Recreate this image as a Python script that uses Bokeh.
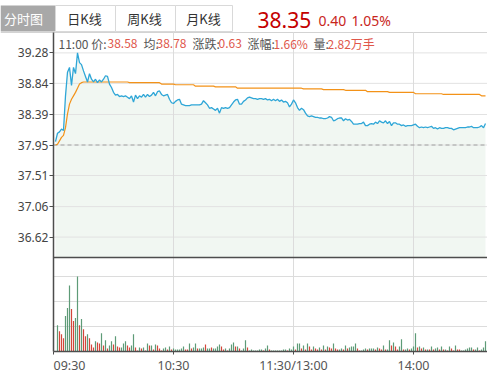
from bokeh.plotting import figure
from bokeh.models import Range1d, FixedTicker, LinearAxis, NumeralTickFormatter
from bokeh.embed import file_html
from bokeh.resources import INLINE
from bokeh.core.properties import value

# ---------------- data ----------------
prev_close = 37.95
last_price = "38.35"
change = "0.40"
change_pct = "1.05%"
price_tick_labels = ["36.62", "37.06", "37.51", "37.95", "38.39", "38.84", "39.28"]
time_tick_minutes = [0, 60, 120, 180]
time_tick_labels = ["09:30", "10:30", "11:30/13:00", "14:00"]
tabs = ["分时图", "日K线", "周K线", "月K线"]
info_labels = ["11:00 价:", "均:", "涨跌:", "涨幅:", "量:"]
info_values = ["38.58", "38.78", "0.63", "1.66%", "2.82万手"]

price = [
    38.00, 38.12, 38.14, 38.18, 38.16, 38.66, 39.00, 39.07, 38.81, 39.07,
    38.98, 39.28, 39.14, 39.11, 39.02, 38.94, 38.86, 38.98, 38.90, 38.86,
    38.90, 38.85, 38.89, 38.86, 38.90, 38.95, 38.94, 38.83, 38.78, 38.71,
    38.67, 38.68, 38.65, 38.66, 38.65, 38.66, 38.64, 38.62, 38.66, 38.57,
    38.67, 38.62, 38.66, 38.64, 38.68, 38.64, 38.68, 38.65, 38.67, 38.71,
    38.66, 38.72, 38.73, 38.68, 38.66, 38.67, 38.68, 38.61, 38.56, 38.55,
    38.58, 38.60, 38.61,
    38.54, 38.53, 38.52, 38.52, 38.52, 38.53, 38.53, 38.53, 38.53, 38.53,
    38.54, 38.59, 38.56, 38.53, 38.48, 38.49, 38.47, 38.45, 38.48, 38.41,
    38.49, 38.48, 38.49, 38.48, 38.49, 38.53, 38.57, 38.60, 38.61, 38.54,
    38.54, 38.58, 38.60, 38.63, 38.64, 38.63, 38.62, 38.62, 38.61, 38.62,
    38.62, 38.61, 38.62, 38.60, 38.61, 38.59, 38.61, 38.59, 38.61, 38.58,
    38.60, 38.57, 38.58, 38.56, 38.50, 38.54, 38.60, 38.56, 38.49, 38.45, 38.48, 38.46,
    38.41, 38.37, 38.36, 38.37, 38.36, 38.35, 38.35, 38.34, 38.34, 38.33,
    38.33, 38.34, 38.36, 38.35, 38.30, 38.31, 38.33, 38.34, 38.34, 38.30,
    38.33, 38.31, 38.32, 38.29, 38.25, 38.25, 38.25, 38.26, 38.26, 38.28,
    38.23, 38.23, 38.25, 38.26, 38.25, 38.28, 38.26, 38.30, 38.28, 38.27,
    38.30, 38.26, 38.29, 38.23, 38.27, 38.27, 38.25, 38.25, 38.23, 38.24,
    38.22, 38.23, 38.23, 38.23, 38.24, 38.25, 38.22, 38.20, 38.21, 38.20,
    38.21, 38.20, 38.21, 38.22, 38.19, 38.20, 38.18, 38.20, 38.19, 38.19,
    38.20, 38.20, 38.19, 38.19, 38.17, 38.18, 38.19, 38.20, 38.20, 38.20,
    38.20, 38.21, 38.21, 38.22, 38.20, 38.20, 38.20, 38.21, 38.23, 38.20, 38.26,
]

avg_price = [
    37.95, 37.96, 38.01, 38.06, 38.09, 38.20, 38.40, 38.54, 38.61, 38.66,
    38.71, 38.77, 38.83, 38.85,
    38.86, 38.86, 38.86, 38.86, 38.86, 38.86, 38.86, 38.86, 38.86, 38.86,
    38.86, 38.86, 38.86, 38.86, 38.86, 38.86, 38.86, 38.86, 38.86, 38.86,
    38.86, 38.86, 38.86,
    38.85, 38.85, 38.85, 38.85, 38.85, 38.85, 38.85, 38.85, 38.85, 38.85,
    38.85, 38.85, 38.85, 38.85, 38.85, 38.85,
    38.83, 38.83, 38.83, 38.83, 38.83, 38.83, 38.83,
    38.82, 38.82, 38.82, 38.82, 38.82, 38.82, 38.82, 38.82, 38.82, 38.82,
    38.80, 38.80, 38.80, 38.80, 38.80, 38.80, 38.80, 38.80, 38.80, 38.80,
    38.79, 38.79, 38.79, 38.79, 38.79, 38.79, 38.79, 38.79, 38.79, 38.79, 38.79,
    38.77, 38.77, 38.77, 38.77, 38.77, 38.77, 38.77, 38.77, 38.77, 38.77,
    38.77, 38.77, 38.77, 38.77, 38.77, 38.77, 38.77, 38.77, 38.77, 38.77,
    38.77, 38.77, 38.77, 38.77, 38.77, 38.77, 38.77, 38.77, 38.77, 38.77,
    38.77, 38.77, 38.77,
    38.76, 38.76, 38.76, 38.76, 38.76, 38.76, 38.76, 38.76, 38.76, 38.76,
    38.75, 38.75, 38.75, 38.75, 38.75, 38.75, 38.75, 38.75, 38.75, 38.75, 38.75,
    38.74, 38.74, 38.74, 38.74, 38.74, 38.74, 38.74, 38.74, 38.74, 38.74, 38.74,
    38.72, 38.72, 38.72, 38.72, 38.72, 38.72, 38.72, 38.72, 38.72, 38.72, 38.72,
    38.71, 38.71, 38.71, 38.71, 38.71, 38.71, 38.71, 38.71, 38.71, 38.71,
    38.71, 38.71, 38.71,
    38.69, 38.69, 38.69, 38.69, 38.69, 38.69, 38.69, 38.69, 38.69, 38.69,
    38.69, 38.69, 38.69, 38.69,
    38.68, 38.68, 38.68, 38.68, 38.68, 38.68, 38.68, 38.68, 38.68, 38.68,
    38.68, 38.68, 38.68, 38.68, 38.68, 38.68, 38.68, 38.68, 38.68,
    38.66, 38.66, 38.66,
]

volume = [
    650, 500, 425, 325, 875, 1075, 1625, 1050, 750, 825,
    1850, 650, 800, 550, 375, 425, 325, 175, 100, 250,
    225, 200, 450, 150, 275, 75, 150, 250, 175, 375,
    125, 100, 100, 200, 250, 150, 100, 150, 425, 100,
    25, 100, 75, 100, 25, 200, 150, 150, 50, 175,
    150, 75, 25, 75, 100, 50, 125, 50, 75, 50,
    50, 50, 75, 125, 50, 50, 200, 75, 100,
    200, 75, 75, 75, 100, 175, 75, 75, 100, 75,
    75, 125, 175, 125, 50, 75, 25, 75, 175, 225,
    125, 125, 75, 25, 75, 275, 100, 25, 50, 25,
    25, 25, 50, 50, 25, 75, 150, 50, 25, 25,
    25, 25, 25, 25, 50, 50, 25, 75, 50, 125,
    50, 200, 200, 75, 150, 50, 200, 125, 50, 125,
    75, 50, 100, 50, 150, 50, 125, 100, 75, 200,
    75, 50, 50, 75, 50, 150, 75, 100, 125, 125,
    200, 75, 25, 25, 50, 75, 50, 75, 75, 75,
    50, 100, 75, 50, 150, 50, 50, 275, 150, 225,
    125, 50, 125, 300, 50, 50, 75, 50, 75, 125,
    450, 100, 125, 75, 100, 50, 50, 50, 125, 50,
    75, 100, 50, 125, 50, 50, 25, 125, 75, 25,
    150, 50, 50, 25, 25, 50, 75, 100, 100, 50,
    50, 100, 25, 50, 100, 250,
]

volume_dir = (
    "grrrgggrrg" "grgrrgrrrg" "rrgrgrggrg" "rrgggrrggr" "rgrgrgrgrg" "rrrggrgrgg" "ggggrrgrg"
    "grgggrggrg" "gggrrgrggg" "rgrgggrggg" "ggggrggrgg" "ggggggrggg" "rggrgrgrrg" "rrgrgrgrrg"
    "rrggrgrggg" "grrgggrggg" "rgrrgrggrg" "rrggrggrgg" "grgrgrgrgr" "ggrgrgrgrr" "grrggggggr"
    "ggrggg"
)

# ---------------- layout constants (pixels of the 487x372 canvas) ----------------
W, H = 487, 372
AXIS_X = 53          # page x of 09:30
PX_PER_MIN = 2.0
FRAME_TOP = 32       # top of price panel
PRICE_BOTTOM = 257   # bottom of price panel
VOL_BOTTOM = 351     # bottom of volume panel
VOL_MAX_PX = 75      # height of the tallest volume bar

BLUE = "#2ea6d7"
ORANGE = "#f39218"
FILL = "#f1f7f2"
UP = "#d4463a"
DOWN = "#5e9b77"
GRID = "#dcdcdc"
AXIS = "#4d4d4d"
FONT = "Noto Sans"
CJK = "Noto Sans CJK SC"

price_half = 1.6245
price_top = prev_close + price_half
price_bot = prev_close - price_half
ppu = (PRICE_BOTTOM - FRAME_TOP) / (2 * price_half)


def sx(px):
    return (px - AXIS_X) / PX_PER_MIN


def sy(py):
    return price_top - (py - FRAME_TOP) / ppu


vmax = max(volume)
vpp = vmax / VOL_MAX_PX
x_end = sx(W)

minutes = list(range(1, len(price) + 1))
vol_minutes = list(range(2, len(volume) + 2))
vol_colors = [UP if d == "r" else DOWN for d in volume_dir]
price_ticks = [float(s) for s in price_tick_labels]
vol_ticks = [vmax / 3, 2 * vmax / 3, vmax]

p = figure(width=W, height=H, x_range=Range1d(sx(0), x_end), y_range=Range1d(sy(H), sy(0)),
           x_axis_location=None, y_axis_location=None, toolbar_location=None,
           output_backend="svg", min_border=0, outline_line_color=None,
           background_fill_color="white", border_fill_color="white")
p.grid.visible = False
p.extra_y_ranges = {"vol": Range1d(-(H - VOL_BOTTOM) * vpp, VOL_BOTTOM * vpp)}

# ---- header ----
p.quad(left=[sx(0)], right=[sx(55)], top=[sy(5)], bottom=[sy(31)],
       fill_color="#a8a8a8", line_color=None)
p.quad(left=[sx(55), sx(115), sx(175)], right=[sx(115), sx(175), sx(232)],
       top=[sy(5)] * 3, bottom=[sy(31)] * 3,
       fill_color="white", line_color="#d9d9d9", line_width=1)
p.segment(x0=[sx(0)], y0=[price_top], x1=[x_end], y1=[price_top],
          line_color="#d3d3d3", line_width=1)
p.text(x=[sx(23), sx(84), sx(144), sx(203)], y=[sy(18)] * 4, text=tabs,
       text_color=["white", "#333333", "#333333", "#333333"],
       text_align="center", text_baseline="middle",
       text_font=value(CJK), text_font_size=value("13px"))
p.text(x=[sx(257)], y=[sy(19)], text=[last_price], text_color="#c40000",
       text_align="left", text_baseline="middle",
       text_font=value(FONT), text_font_size=value("21px"))
p.text(x=[sx(318), sx(351)], y=[sy(20)] * 2, text=[change, change_pct], text_color="#c8261c",
       text_align="left", text_baseline="middle",
       text_font=value(FONT), text_font_size=value("14px"))

# ---- panels ----
p.varea(x=minutes, y1=price_bot, y2=price, fill_color=FILL)

# grid lines
p.segment(x0=[0] * len(price_ticks), x1=[x_end] * len(price_ticks), y0=price_ticks, y1=price_ticks,
          line_color="#e2e2e2", line_width=1)
p.segment(x0=[0] * 3, x1=[x_end] * 3, y0=vol_ticks, y1=vol_ticks,
          line_color=GRID, line_width=1, y_range_name="vol")
p.segment(x0=time_tick_minutes[1:], x1=time_tick_minutes[1:],
          y0=[sy(VOL_BOTTOM)] * 3, y1=[price_top] * 3, line_color=GRID, line_width=1)
p.segment(x0=[0], x1=[x_end], y0=[prev_close], y1=[prev_close],
          line_color="#a0a0a0", line_dash="4 3", line_width=1)

p.vbar(x=vol_minutes, top=volume, bottom=0, width=0.6, fill_color=vol_colors,
       line_color=None, y_range_name="vol")
p.line(minutes, avg_price, line_color=ORANGE, line_width=1.2)
p.line(minutes, price, line_color=BLUE, line_width=1.3)
p.segment(x0=[0], x1=[x_end], y0=[price_bot], y1=[price_bot], line_color=AXIS, line_width=1.5)

# ---- axes ----
yaxis = LinearAxis(fixed_location=0, bounds=(sy(VOL_BOTTOM), price_top),
                   ticker=FixedTicker(ticks=price_ticks),
                   formatter=NumeralTickFormatter(format="0.00"))
yaxis.axis_line_color = AXIS
yaxis.axis_line_width = 1.5
yaxis.major_tick_line_color = AXIS
yaxis.major_tick_out = 4
yaxis.major_tick_in = 0
yaxis.minor_tick_line_color = None
yaxis.major_label_standoff = 1
yaxis.major_label_text_font = FONT
yaxis.major_label_text_font_size = "12px"
yaxis.major_label_text_color = "#444444"
p.add_layout(yaxis, "left")

xaxis = LinearAxis(fixed_location=sy(VOL_BOTTOM), bounds=(0, x_end),
                   ticker=FixedTicker(ticks=time_tick_minutes))
xaxis.major_label_overrides = {m: (lab if m != time_tick_minutes[0] else "")
                               for m, lab in zip(time_tick_minutes, time_tick_labels)}
xaxis.axis_line_color = AXIS
xaxis.axis_line_width = 1.5
xaxis.major_tick_line_color = AXIS
xaxis.major_tick_out = 3
xaxis.major_tick_in = 0
xaxis.minor_tick_line_color = None
xaxis.major_label_standoff = 2
xaxis.major_label_text_font = FONT
xaxis.major_label_text_font_size = "12.5px"
xaxis.major_label_text_color = "#555555"
p.add_layout(xaxis, "below")

# first time label sits to the right of its tick
p.text(x=[time_tick_minutes[0]], y=[sy(VOL_BOTTOM + 5)], text=[time_tick_labels[0]],
       text_align="left", text_baseline="top", text_color="#555555",
       text_font=value(FONT), text_font_size=value("12.5px"))

# ---- info row ----
info_label_x = [58, 143, 192, 247, 313]
info_value_x = [107, 156, 218, 273, 327]
p.text(x=[sx(v) for v in info_label_x], y=[sy(43)] * 5, text=info_labels,
       text_align="left", text_baseline="middle", text_color="#555555",
       text_font=value(CJK), text_font_size=value("12px"))
p.text(x=[sx(v) for v in info_value_x], y=[sy(43)] * 5, text=info_values,
       text_align="left", text_baseline="middle", text_color="#e0574b",
       text_font=value(CJK), text_font_size=value("12px"))

open("out.html", "w").write(file_html(p, INLINE))
